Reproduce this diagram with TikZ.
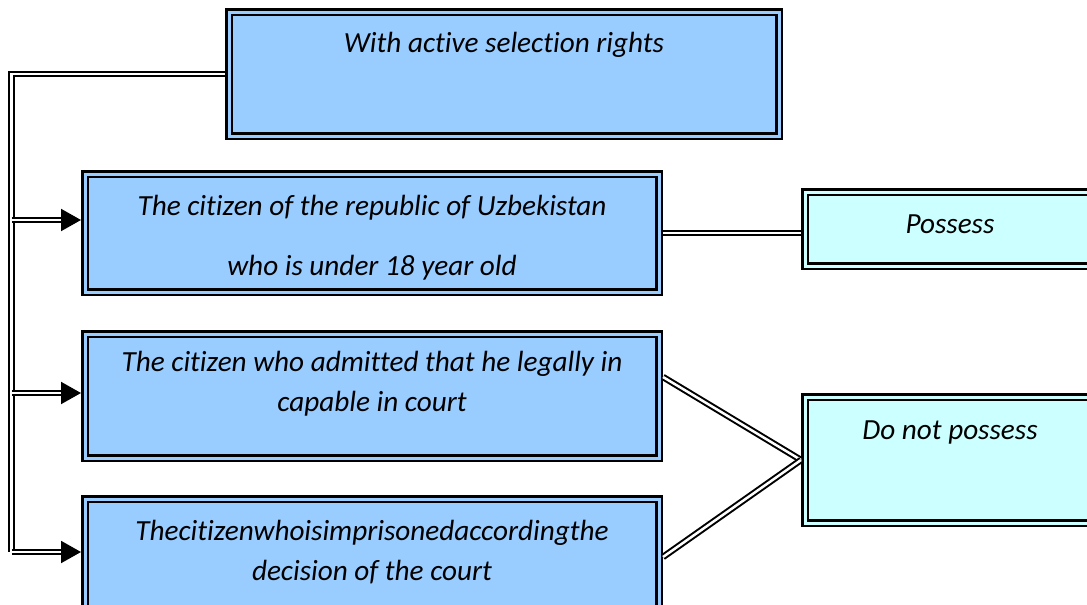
\documentclass[tikz,border=0pt]{standalone}
\usepackage{fontspec}
\setmainfont{Carlito}[Ligatures=NoCommon]
\usetikzlibrary{arrows.meta}
\definecolor{boxblue}{HTML}{99CCFF}
\definecolor{boxcyan}{HTML}{CCFFFF}
\begin{document}
\begin{tikzpicture}[x=1pt,y=-1pt,
  box/.style={rectangle, draw=black, double=#1, double distance=3pt,
    line width=2.5pt, fill=#1, inner sep=0pt, outer sep=4pt},
  txt/.style={font=\fontsize{29.2}{40}\selectfont\itshape, align=center,
    anchor=center, inner sep=0pt},
  conn/.style={draw=black, double=white, line width=2pt, double distance=2.5pt},
  arr/.style={conn, -{Triangle[length=20pt,width=22pt]}}]
  \useasboundingbox (0,0) rectangle (1087,605);
  \fill[white] (0,0) rectangle (1087,605);
  \clip (0,0) rectangle (1087,605);

  % points on the left trunk
  \coordinate (corner) at (11.5,74);
  \coordinate (tb) at (11.5,552);
  \coordinate (a2) at (11.5,220);
  \coordinate (a3) at (11.5,393);
  \coordinate (a4) at (11.5,552);

  % boxes
  \node[box=boxblue, minimum width=550pt, minimum height=124pt,
    label={[txt, yshift=-37pt]north:With active selection rights}] (top) at (504,74) {};
  \node[box=boxblue, minimum width=574pt, minimum height=118pt,
    label={[txt, yshift=-68pt]north:{The citizen of the republic of Uzbekistan\\[20pt]who is under 18 year old}}] (b2) at (372,233) {};
  \node[box=boxblue, minimum width=574pt, minimum height=124pt,
    label={[txt, yshift=-54pt]north:{The citizen who admitted that he legally in\\capable in court}}] (b3) at (372,396) {};
  \node[box=boxblue, minimum width=574pt, minimum height=124pt,
    label={[txt, yshift=-57.5pt]north:{Thecitizenwhoisimprisonedaccordingthe\\decision of the court}}] (b4) at (372,561) {};
  \node[box=boxcyan, minimum width=290pt, minimum height=74pt,
    label={[txt, yshift=-36pt]north:Possess}] (poss) at (950,229) {};
  \node[box=boxcyan, minimum width=290pt, minimum height=126pt,
    label={[txt, yshift=-39.5pt]north:Do not possess}] (dnp) at (950,460) {};

  % trunk and branches
  \draw[conn] (top.west) -- (corner) -- (tb);
  \draw[arr] (a2) -- (a2 -| b2.west);
  \draw[arr] (a3) -- (a3 -| b3.west);
  \draw[arr] (a4) -- (a4 -| b4.west);

  % links to the outcome boxes
  \draw[conn] (b2.east) -- (b2.east -| poss.west);
  \draw[conn] ([yshift=19pt]b3.east) -- (dnp.west);
  \draw[conn] ([yshift=4pt]b4.east) -- (dnp.west);
\end{tikzpicture}
\end{document}
